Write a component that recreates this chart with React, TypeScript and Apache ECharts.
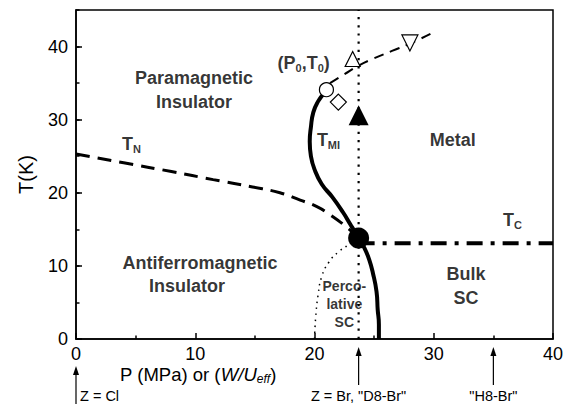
import React, { useEffect, useRef } from 'react';
import * as echarts from 'echarts';

// ---- data (P in MPa, T in K) ----
const xTickValues = [0, 10, 20, 30, 40];
const tN: number[][] = [
  [0, 25.3], [4, 24.1], [8, 22.9], [11.5, 21.8], [14.8, 20.8], [17.1, 20.0],
  [18.8, 19.0], [20.2, 18.1], [21.3, 17.0], [22.7, 15.3], [23.7, 13.8],
];
const tMI: number[][] = [
  [20.8, 33.6], [20.3, 32.5], [19.9, 31.0], [19.7, 29.0], [19.6, 27.0], [19.7, 25.0],
  [20.0, 23.2], [20.6, 21.2], [21.5, 19.4], [22.4, 17.3], [23.0, 15.7], [23.7, 13.8],
  [24.2, 12.4], [24.6, 10.8], [24.9, 9.0], [25.2, 6.5], [25.3, 4.0], [25.4, 2.0], [25.4, 0],
];
const t0Line: number[][] = [
  [21.3, 35.0], [22.5, 36.2], [23.7, 37.4], [25.0, 38.4], [26.5, 39.4], [28.0, 40.4], [29.8, 41.8],
];
const tC: number[][] = [[23.7, 13.1], [40, 13.1]];
const percolative: number[][] = [
  [20.0, 0], [20.1, 3.0], [20.3, 6.0], [20.6, 8.5], [21.2, 10.5], [22.0, 11.9], [22.8, 12.8], [23.5, 13.5],
];
const pCritical = 23.7;
const crossLine: number[][] = [[pCritical, 0], [pCritical, 45]];
const openCircle: number[][] = [[21.0, 34.1]];
const openDiamond: number[][] = [[22.0, 32.4]];
const openUpTriangle: number[][] = [[23.2, 38.3]];
const openDownTriangle: number[][] = [[28.0, 40.5]];
const filledTriangle: number[][] = [[23.7, 30.6]];
const criticalPoint: number[][] = [[23.7, 13.8]];

const regionLabels = [
  { text: 'Paramagnetic\nInsulator', p: 9.9, t: 34.0 },
  { text: 'Antiferromagnetic', p: 10.4, t: 10.4 },
  { text: 'Insulator', p: 9.3, t: 7.3 },
  { text: 'Metal', p: 31.6, t: 27.2 },
  { text: 'Bulk\nSC', p: 32.7, t: 7.2 },
];
const smallLabels = [{ text: 'Perco-\nlative\nSC', p: 22.5, t: 4.8 }];
const subLabels = [
  { text: '{t|T}{s|N}', p: 3.85, t: 26.7 },
  { text: '{t|T}{s|MI}', p: 20.2, t: 27.2 },
  { text: '{t|T}{s|C}', p: 35.8, t: 16.3 },
  { text: '{t|(P}{s|0}{t|,T}{s|0}{t|)}', p: 16.9, t: 37.8 },
];
const samples = [
  { p: 0, text: 'Z = Cl' },
  { p: 23.7, text: 'Z = Br, "D8-Br"' },
  { p: 35, text: '"H8-Br"' },
];

const FONT = '"Liberation Sans", Arial, sans-serif';

export default function App() {
  const ref = useRef<HTMLDivElement>(null);
  useEffect(() => {
    document.body.style.margin = '0';
    const chart = echarts.init(ref.current!, undefined, { renderer: 'svg' });
    const black = '#000';
    const lineSeries = (data: number[][], width: number, type: any, smooth = true) => ({
      type: 'line', data, smooth, showSymbol: false, symbol: 'none', yAxisIndex: 0,
      lineStyle: { color: black, width, type, cap: 'butt' }, silent: true, z: 3,
    });
    const marker = (data: number[][], symbol: string, size: number, filled: boolean, rotate = 0) => ({
      type: 'scatter', data, symbol, symbolSize: size, symbolRotate: rotate, yAxisIndex: 0, z: 5,
      itemStyle: { color: filled ? black : '#fff', borderColor: black, borderWidth: filled ? 0 : 1.2, opacity: 1 },
    });
    const richSub = {
      t: { fontSize: 18, fontWeight: 'bold', fontFamily: FONT, color: black },
      s: { fontSize: 11, fontWeight: 'bold', fontFamily: FONT, color: black, verticalAlign: 'bottom', padding: [10, 0, 0, 0] },
    };
    const option: any = {
      animation: false,
      grid: { left: 76, right: 18, top: 10, bottom: 65, show: true, borderColor: black, borderWidth: 1.5, containLabel: false, outerBoundsMode: 'none' },
      xAxis: {
        type: 'value', min: 0, max: 40, interval: 10,
        axisLine: { show: true, onZero: false, lineStyle: { color: black, width: 1.5 } },
        axisTick: { show: true, inside: true, length: 6, lineStyle: { color: black, width: 1.5 } },
        minorTick: { show: true, splitNumber: 2, length: 3.5, lineStyle: { color: black, width: 1.5 } },
        axisLabel: { color: black, fontSize: 18, fontFamily: FONT, margin: 6, formatter: (v: number) => (xTickValues.includes(v) ? String(v) : '') },
        splitLine: { show: false }, minorSplitLine: { show: false },
      },
      yAxis: [
        {
          type: 'value', min: 0, max: 45, interval: 10,
          name: 'T(K)', nameLocation: 'middle', nameGap: 40,
          nameTextStyle: { color: black, fontSize: 20, fontFamily: FONT },
          axisLine: { show: true, onZero: false, lineStyle: { color: black, width: 1.5 } },
          axisTick: { show: true, inside: true, length: 6, lineStyle: { color: black, width: 1.5 } },
          axisLabel: { color: black, fontSize: 18, fontFamily: FONT, margin: 8, showMaxLabel: false },
          splitLine: { show: false },
        },
        {
          type: 'value', min: 0, max: 45, interval: 5, position: 'left',
          axisLine: { show: false },
          axisTick: { show: true, inside: true, length: 3.5, lineStyle: { color: black, width: 1.5 } },
          axisLabel: { show: false }, splitLine: { show: false },
        },
      ],
      series: [
        lineSeries(crossLine, 2.2, [2.2, 6], false),
        lineSeries(percolative, 1.5, [1.5, 4.5]),
        lineSeries(tN, 3, [14, 8]),
        lineSeries(t0Line, 2, [10, 7]),
        lineSeries(tMI, 4, 'solid'),
        lineSeries(tC, 4, [16, 8, 4, 8], false),
        marker(openCircle, 'circle', 14, false),
        marker(openDiamond, 'diamond', 16, false),
        marker(openUpTriangle, 'triangle', 15, false),
        marker(openDownTriangle, 'triangle', 16, false, 180),
        marker(filledTriangle, 'triangle', 20, true),
        marker(criticalPoint, 'circle', 21, true),
        {
          type: 'scatter', yAxisIndex: 0, symbolSize: 0, z: 6, silent: true,
          itemStyle: { color: 'transparent' },
          data: regionLabels.map((d) => ({ value: [d.p, d.t], label: { formatter: d.text } })),
          label: { show: true, position: 'inside', color: black, fontSize: 18, fontWeight: 'bold', fontFamily: FONT, lineHeight: 24, align: 'center' },
        },
        {
          type: 'scatter', yAxisIndex: 0, symbolSize: 0, z: 6, silent: true,
          itemStyle: { color: 'transparent' },
          data: smallLabels.map((d) => ({ value: [d.p, d.t], label: { formatter: d.text } })),
          label: { show: true, position: 'inside', color: black, fontSize: 14, fontWeight: 'bold', fontFamily: FONT, lineHeight: 18, align: 'center' },
        },
        {
          type: 'scatter', yAxisIndex: 0, symbolSize: 0, z: 6, silent: true,
          itemStyle: { color: 'transparent' },
          data: subLabels.map((d) => ({ value: [d.p, d.t], label: { formatter: d.text } })),
          label: { show: true, position: 'right', distance: 0, rich: richSub },
        },
      ],
    };
    chart.setOption(option);

    const toPx = (p: number, t: number) => chart.convertToPixel({ gridIndex: 0 }, [p, t]) as number[];
    const axisY = toPx(0, 0)[1];
    const graphic: any[] = [];
    samples.forEach((s, i) => {
      const x = toPx(s.p, 0)[0];
      const top = i === 0 ? axisY + 27 : axisY + 8;
      const bottom = i === 0 ? axisY + 66 : axisY + 46;
      graphic.push({ type: 'line', shape: { x1: x, y1: top + 6, x2: x, y2: bottom }, style: { stroke: black, lineWidth: 1.2 } });
      graphic.push({ type: 'polygon', shape: { points: [[x, top], [x - 3, top + 9], [x + 3, top + 9]] }, style: { fill: black } });
      graphic.push({
        type: 'text', x: i === 0 ? x + 4 : x, y: axisY + 57,
        style: { text: s.text, fill: black, fontSize: 14.5, fontFamily: FONT, align: i === 0 ? 'left' : 'center', verticalAlign: 'middle' },
      });
    });
    const nameX = toPx(3.7, 0)[0];
    graphic.push({
      type: 'text', x: nameX, y: axisY + 35,
      style: {
        text: '{n|P (MPa) or (}{i|W/U}{s|eff}{n|)}', align: 'left', verticalAlign: 'middle',
        rich: {
          n: { fontSize: 18.5, fontFamily: FONT, color: black },
          i: { fontSize: 18.5, fontFamily: FONT, fontStyle: 'italic', color: black },
          s: { fontSize: 12, fontFamily: FONT, fontStyle: 'italic', color: black, verticalAlign: 'bottom', padding: [10, 0, 0, 0] },
        },
      },
    });
    chart.setOption({ graphic });
    return () => chart.dispose();
  }, []);
  return <div ref={ref} style={{ width: 571, height: 404 }} />;
}
